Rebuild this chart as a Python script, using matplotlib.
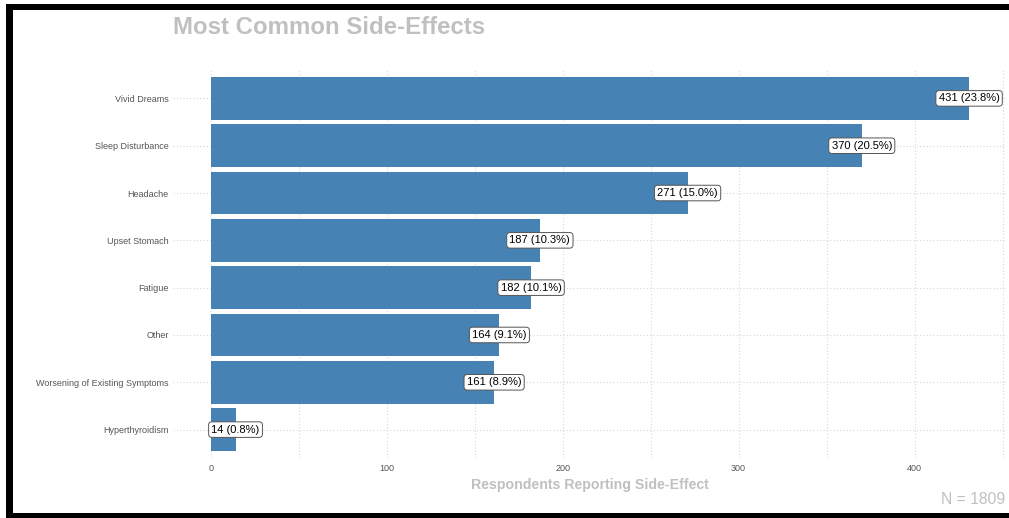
import matplotlib
matplotlib.use("Agg")
import matplotlib.pyplot as plt
from matplotlib.patches import Rectangle
import numpy as np

plt.rcParams['font.family'] = ['Liberation Sans', 'DejaVu Sans']

categories = ["Vivid Dreams", "Sleep Disturbance", "Headache", "Upset Stomach",
              "Fatigue", "Other", "Worsening of Existing Symptoms", "Hyperthyroidism"]
counts = [431, 370, 271, 187, 182, 164, 161, 14]
percents = [23.8, 20.5, 15.0, 10.3, 10.1, 9.1, 8.9, 0.8]
total_n = 1809
x_ticks = [0, 100, 200, 300, 400]
x_minor = [50, 150, 250, 350, 450]

W, H = 1009, 518
fig = plt.figure(figsize=(W / 100, H / 100), dpi=100)
fig.patch.set_facecolor('white')

left, right, top, bottom = 173, 1007, 70, 458
ax = fig.add_axes([left / W, 1 - bottom / H, (right - left) / W, (bottom - top) / H])

n = len(categories)
ypos = np.arange(n)[::-1] + 1  # first category at top
grid_col = '#D6D6D6'
for y in ypos:
    ax.axhline(y, color=grid_col, lw=0.8, ls=(0, (1, 2)), zorder=0)
for x in x_ticks + x_minor:
    ax.axvline(x, color=grid_col, lw=0.8, ls=(0, (1, 2)), zorder=0)

ax.barh(ypos, counts, height=0.9, color='#4682B4', zorder=2)
for y, c, p in zip(ypos, counts, percents):
    ax.text(c, y, f"{c} ({p:.1f}%)", ha='center', va='center', fontsize=8,
            color='black', zorder=3,
            bbox=dict(boxstyle='round,pad=0.25,rounding_size=0.3', fc='white',
                      ec='#555555', lw=0.7))

ax.set_xlim(-21.55, 452.55)
ax.set_ylim(0.4, n + 0.6)
ax.set_yticks(ypos)
ax.set_yticklabels(categories, fontsize=6.5, color='#555555')
ax.set_xticks(x_ticks)
ax.set_xticklabels([str(t) for t in x_ticks], fontsize=6.5, color='#555555')
ax.tick_params(length=0, pad=4)
ax.tick_params(axis='y', pad=3)
for s in ax.spines.values():
    s.set_visible(False)
ax.set_xlabel("Respondents Reporting Side-Effect", fontsize=10.2, fontweight='bold',
              color='#C0C0C0', labelpad=4)

fig.text(left / W, 1 - 27 / H, "Most Common Side-Effects", fontsize=17.3,
         fontweight='bold', color='#C0C0C0', ha='left', va='center')
fig.text(1005 / W, 1 - 500 / H, f"N = {total_n}", fontsize=11.3, color='#C0C0C0',
         ha='right', va='center')

# black frame
fig.add_artist(Rectangle((6 / W, 0), 7 / W, 1 - 4 / H, transform=fig.transFigure, color='black', lw=0))
fig.add_artist(Rectangle((6 / W, 1 - 10 / H), 1, 6 / H, transform=fig.transFigure, color='black', lw=0))
fig.add_artist(Rectangle((6 / W, 0), 1, 5 / H, transform=fig.transFigure, color='black', lw=0))

fig.savefig("out.png", dpi=100)
